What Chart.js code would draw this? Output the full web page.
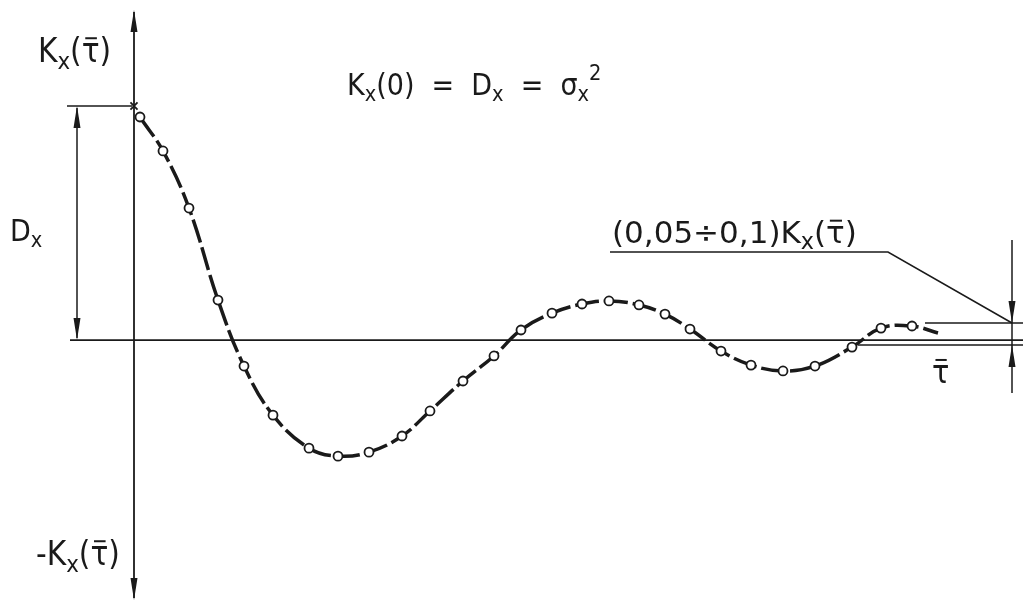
<!DOCTYPE html>
<html>
<head>
<meta charset="utf-8">
<script src="https://cdn.jsdelivr.net/npm/chart.js@4"></script>
<style>
  body { margin: 0; background: #fff; }
  #wrap { width: 1023px; height: 601px; }
</style>
</head>
<body>
<div id="wrap"><canvas id="kx" width="1023" height="601"></canvas></div>
<script>
// lag tau (arbitrary units) and correlation K_x(tau) normalised to D_x = 1
const tau = [0, 0.06, 0.29, 0.55, 0.84, 1.10, 1.39, 1.75, 2.04, 2.35, 2.68, 2.96, 3.29, 3.60,
             3.87, 4.18, 4.48, 4.75, 5.05, 5.31, 5.56, 5.87, 6.17, 6.49, 6.81, 7.18, 7.47, 7.78, 8.04];
const kx = [1.000, 0.953, 0.808, 0.564, 0.171, -0.111, -0.321, -0.462, -0.496, -0.479, -0.410,
            -0.303, -0.175, -0.068, 0.043, 0.115, 0.154, 0.167, 0.150, 0.111, 0.047, -0.047,
            -0.107, -0.132, -0.111, -0.030, 0.051, 0.060, 0.030];

const titleParts = [['K'], ['x', 'sub'], ['(0)  =  D'], ['x', 'sub'], ['  =  σ'], ['x', 'sub'], ['2', 'sup']];
const yTopLabel = [['K'], ['x', 'sub'], ['('], ['τ', 'bar'], [')']];
const yBottomLabel = [['-K'], ['x', 'sub'], ['('], ['τ', 'bar'], [')']];
const dxLabel = [['D'], ['x', 'sub']];
const bandLabel = [['(0,05÷0,1)K'], ['x', 'sub'], ['('], ['τ', 'bar'], [')']];
const tauLabel = [['τ', 'bar']];

const ink = '#1a1a1a';
const FONT = '"DejaVu Sans Condensed", "DejaVu Sans", sans-serif';
const WIDE = '"DejaVu Sans", sans-serif';

function rich(ctx, x, y, parts, size, face) {
    face = face || FONT;
    ctx.textBaseline = 'alphabetic';
    ctx.textAlign = 'left';
    parts.forEach(p => {
        let s = size, dy = 0;
        if (p[1] === 'sub') { s = size * 0.72; dy = size * 0.2; }
        if (p[1] === 'sup') { s = size * 0.72; dy = -size * 0.5; }
        ctx.font = s + 'px ' + face;
        ctx.fillText(p[0], x, y + dy);
        const w = ctx.measureText(p[0]).width;
        if (p[1] === 'bar') {
            ctx.lineWidth = 2;
            ctx.beginPath();
            ctx.moveTo(x + w * 0.2, y - size * 0.72);
            ctx.lineTo(x + w * 0.85, y - size * 0.72);
            ctx.stroke();
        }
        x += w;
    });
}

function arrow(ctx, x, y, dir, len, half) {
    // dir: 1 = pointing down, -1 = pointing up
    ctx.beginPath();
    ctx.moveTo(x, y);
    ctx.lineTo(x - half, y - dir * len);
    ctx.lineTo(x + half, y - dir * len);
    ctx.closePath();
    ctx.fill();
}

function line(ctx, pts, w) {
    ctx.lineWidth = w;
    ctx.beginPath();
    ctx.moveTo(pts[0][0], pts[0][1]);
    pts.slice(1).forEach(p => ctx.lineTo(p[0], p[1]));
    ctx.stroke();
}

const drawing = {
    id: 'drawing',
    beforeDatasetsDraw(chart) {
        const ctx = chart.ctx;
        const xs = chart.scales.x, ys = chart.scales.y;
        const x0 = xs.getPixelForValue(0), y0 = ys.getPixelForValue(0);
        const yD = ys.getPixelForValue(1);
        ctx.save();
        ctx.strokeStyle = ink;
        ctx.fillStyle = ink;
        // axes
        line(ctx, [[x0, 12], [x0, 598]], 1.8);
        arrow(ctx, x0, 10, -1, 22, 3.5);
        arrow(ctx, x0, 600, 1, 22, 3.5);
        line(ctx, [[70, y0], [1023, y0]], 1.8);
        // D_x dimension
        line(ctx, [[67, yD], [x0 - 2, yD]], 1.5);
        line(ctx, [[77, yD + 2], [77, y0 - 2]], 1.5);
        arrow(ctx, 77, yD, -1, 22, 3.5);
        arrow(ctx, 77, y0, 1, 22, 3.5);
        // band on the right
        line(ctx, [[610, 252], [888, 252], [1012, 323]], 1.5);
        line(ctx, [[925, 323], [1023, 323]], 1.5);
        line(ctx, [[858, 345], [1023, 345]], 1.5);
        line(ctx, [[1012, 240], [1012, 393]], 1.5);
        arrow(ctx, 1012, 323, 1, 22, 3.5);
        arrow(ctx, 1012, 345, -1, 22, 3.5);
        // texts
        rich(ctx, 347, 95, titleParts, 30);
        rich(ctx, 38, 62, yTopLabel, 33);
        rich(ctx, 36, 565, yBottomLabel, 33);
        rich(ctx, 10, 241, dxLabel, 30);
        rich(ctx, 612, 243, bandLabel, 31, WIDE);
        rich(ctx, 932, 383, tauLabel, 32);
        ctx.restore();
    }
};

const n = tau.length;
new Chart(document.getElementById('kx'), {
    type: 'line',
    data: {
        datasets: [{
            data: tau.map((t, i) => ({ x: t, y: kx[i] })),
            borderColor: ink,
            borderWidth: 3.5,
            borderDash: [24, 5],
            tension: 0.4,
            pointStyle: tau.map((t, i) => i === 0 ? 'crossRot' : 'circle'),
            pointRadius: tau.map((t, i) => i === n - 1 ? 0 : (i === 0 ? 5 : 4.5)),
            pointBackgroundColor: '#fff',
            pointBorderColor: ink,
            pointBorderWidth: 1.8,
            segment: {
                borderColor: c => c.p0DataIndex === 0 ? 'rgba(0,0,0,0)' : undefined
            }
        }]
    },
    options: {
        responsive: false,
        animation: false,
        layout: { padding: 0, autoPadding: false },
        plugins: { legend: { display: false }, tooltip: { enabled: false } },
        scales: {
            x: { type: 'linear', display: false, min: -1.34, max: 8.89 },
            y: { display: false, min: -1.115, max: 1.453 }
        }
    },
    plugins: [drawing]
});
</script>
</body>
</html>
